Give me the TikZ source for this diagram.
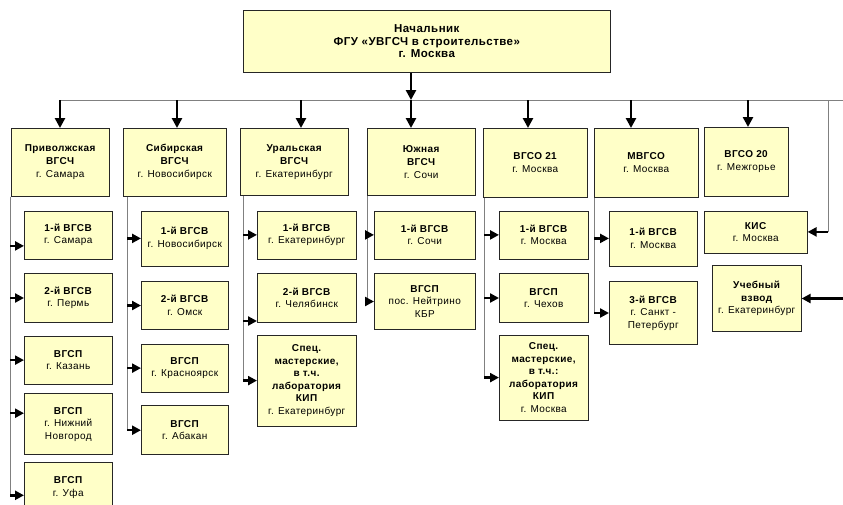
\documentclass[tikz,border=0pt]{standalone}
\usepackage{fontspec}
\setmainfont[LetterSpace=4]{Liberation Sans}
\usetikzlibrary{arrows.meta,positioning}
\definecolor{boxfill}{HTML}{FFFFC8}
\definecolor{busgray}{HTML}{808080}
\tikzset{
  chiefnode/.style={draw=black!85,line width=0.6pt,fill=boxfill,anchor=north west,minimum width=367pt,minimum height=62pt,align=center,font=\fontsize{11.5}{12.5}\selectfont\bfseries},
  headnode/.style={draw=black!85,line width=0.6pt,fill=boxfill,anchor=north west,minimum height=68pt,inner xsep=1pt,align=center,font=\fontsize{10}{13}\selectfont},
  unitnode/.style={draw=black!85,line width=0.6pt,fill=boxfill,inner xsep=1pt,align=center,font=\fontsize{10}{12.5}\selectfont},
  busline/.style={busgray,line width=0.9pt},
  feed/.style={-{Triangle[length=10pt,width=10pt]},line width=2.6pt},
  sidearrow/.style={-{Triangle[length=9pt,width=9pt]},line width=2.4pt}
}
\begin{document}
\begin{tikzpicture}[x=1pt,y=-1pt,node distance=14pt]
  \useasboundingbox (0,0) rectangle (843,504);
  \node[chiefnode] (chief) at (243,10) {Начальник\\ФГУ «УВГСЧ в строительстве»\\г. Москва};

  % regional units
  \node[headnode,minimum width=98pt] (volga) at (11,128) {\textbf{Приволжская}\\\textbf{ВГСЧ}\\г. Самара};
  \node[headnode,minimum width=103pt] (sib) at (123,128) {\textbf{Сибирская}\\\textbf{ВГСЧ}\\г. Новосибирск};
  \node[headnode,minimum width=108pt,minimum height=67pt] (ural) at (240,128) {\textbf{Уральская}\\\textbf{ВГСЧ}\\г. Екатеринбург};
  \node[headnode,minimum width=108pt,minimum height=67pt] (south) at (367,128) {\textbf{Южная}\\\textbf{ВГСЧ}\\г. Сочи};
  \node[headnode,minimum width=104pt,minimum height=69pt] (vgso21) at (483,128) {\textbf{ВГСО 21}\\г. Москва};
  \node[headnode,minimum width=104pt,minimum height=69pt] (mvgso) at (594,128) {\textbf{МВГСО}\\г. Москва};
  \node[headnode,minimum width=84pt,minimum height=69pt] (vgso20) at (704,127) {\textbf{ВГСО 20}\\г. Межгорье};

  % Volga children
  \node[unitnode,minimum width=88pt,minimum height=48pt,below right=14pt and 13pt of volga.south west] (volga1) {\textbf{1-й ВГСВ}\\г. Самара};
  \node[unitnode,minimum width=88pt,minimum height=49pt,below=14pt of volga1] (volga2) {\textbf{2-й ВГСВ}\\г. Пермь};
  \node[unitnode,minimum width=88pt,minimum height=48pt,below=13pt of volga2] (volga3) {\textbf{ВГСП}\\г. Казань};
  \node[unitnode,minimum width=88pt,minimum height=61pt,below=9pt of volga3] (volga4) {\textbf{ВГСП}\\г. Нижний\\Новгород};
  \node[unitnode,minimum width=88pt,minimum height=50pt,below=7pt of volga4] (volga5) {\textbf{ВГСП}\\г. Уфа};

  % Siberian children
  \node[unitnode,minimum width=87pt,minimum height=55pt,below right=14pt and 18pt of sib.south west] (sib1) {\textbf{1-й ВГСВ}\\г. Новосибирск};
  \node[unitnode,minimum width=87pt,minimum height=48pt,below=15pt of sib1] (sib2) {\textbf{2-й ВГСВ}\\г. Омск};
  \node[unitnode,minimum width=87pt,minimum height=48pt,below=14pt of sib2] (sib3) {\textbf{ВГСП}\\г. Красноярск};
  \node[unitnode,minimum width=87pt,minimum height=49pt,below=13pt of sib3] (sib4) {\textbf{ВГСП}\\г. Абакан};

  % Ural children
  \node[unitnode,minimum width=99pt,minimum height=48pt,below right=15pt and 17pt of ural.south west] (ural1) {\textbf{1-й ВГСВ}\\г. Екатеринбург};
  \node[unitnode,minimum width=99pt,minimum height=49pt,below=14pt of ural1] (ural2) {\textbf{2-й ВГСВ}\\г. Челябинск};
  \node[unitnode,minimum width=99pt,minimum height=91pt,below=12pt of ural2] (ural3) {\textbf{Спец.}\\\textbf{мастерские,}\\\textbf{в т.ч.}\\\textbf{лаборатория}\\\textbf{КИП}\\г. Екатеринбург};

  % Southern children
  \node[unitnode,minimum width=101pt,minimum height=48pt,below right=15pt and 7pt of south.south west] (south1) {\textbf{1-й ВГСВ}\\г. Сочи};
  \node[unitnode,minimum width=101pt,minimum height=56pt,below=14pt of south1] (south2) {\textbf{ВГСП}\\пос. Нейтрино\\КБР};

  % VGSO 21 children
  \node[unitnode,minimum width=89pt,minimum height=48pt,below right=13pt and 16pt of vgso21.south west] (vgso211) {\textbf{1-й ВГСВ}\\г. Москва};
  \node[unitnode,minimum width=89pt,minimum height=49pt,below=14pt of vgso211] (vgso212) {\textbf{ВГСП}\\г. Чехов};
  \node[unitnode,minimum width=89pt,minimum height=85pt,below=12pt of vgso212] (vgso213) {\textbf{Спец.}\\\textbf{мастерские,}\\\textbf{в т.ч.:}\\\textbf{лаборатория}\\\textbf{КИП}\\г. Москва};

  % MVGSO children
  \node[unitnode,minimum width=88pt,minimum height=55pt,below right=13pt and 15pt of mvgso.south west] (mvgso1) {\textbf{1-й ВГСВ}\\г. Москва};
  \node[unitnode,minimum width=88pt,minimum height=63pt,below=15pt of mvgso1] (mvgso2) {\textbf{3-й ВГСВ}\\г. Санкт -\\Петербург};

  % direct units
  \node[unitnode,minimum width=103pt,minimum height=42pt,below right=14pt and 0pt of vgso20.south west] (kis) {\textbf{КИС}\\г. Москва};
  \node[unitnode,minimum width=89pt,minimum height=66pt,below right=12pt and 8pt of kis.south west] (vzvod) {\textbf{Учебный}\\\textbf{взвод}\\г. Екатеринбург};

  % bus
  \coordinate (tap1) at (60,100);
  \coordinate (tap2) at (177,100);
  \coordinate (tap3) at (301,100);
  \coordinate (tap4) at (411,100);
  \coordinate (tap5) at (528,100);
  \coordinate (tap6) at (631,100);
  \coordinate (tap7) at (748,100);
  \coordinate (rtap) at (828,100);
  \coordinate (busend) at (843,100);
  \draw[busline] (tap1) -- (busend);
  \draw[feed] (chief.south -| tap4) -- (tap4);
  \foreach \n/\h in {1/volga,2/sib,3/ural,4/south,5/vgso21,6/mvgso,7/vgso20}
    \draw[feed] (tap\n) -- (tap\n |- \h.north);
  \draw[busline] (rtap) -- (rtap |- kis.east);
  \draw[sidearrow] (rtap |- kis.east) -- (kis.east);
  \draw[sidearrow] (busend |- vzvod.east) -- (vzvod.east);

  % trunks
  \coordinate (volgatr) at ([xshift=-1pt]volga.south west);
  \coordinate (sibtr) at ([xshift=4pt]sib.south west);
  \coordinate (uraltr) at ([xshift=3pt]ural.south west);
  \coordinate (southtr) at (south.south west);
  \coordinate (vgso21tr) at ([xshift=1pt]vgso21.south west);
  \coordinate (mvgsotr) at (mvgso.south west);
  \coordinate (volga1in) at ([yshift=-11pt]volga1.west);
  \coordinate (volga4in) at ([yshift=11pt]volga4.west);
  \coordinate (volga5in) at ([yshift=-8pt]volga5.west);
  \coordinate (ural2in) at ([yshift=-23pt]ural2.west);

  \draw[busline] (volgatr) -- (volgatr |- volga5in);
  \foreach \t in {volga1in,volga2.west,volga3.west,volga4in,volga5in}
    \draw[sidearrow] (volgatr |- \t) -- (\t);
  \draw[busline] (sibtr) -- (sibtr |- sib4.west);
  \foreach \t in {sib1.west,sib2.west,sib3.west,sib4.west}
    \draw[sidearrow] (sibtr |- \t) -- (\t);
  \draw[busline] (uraltr) -- (uraltr |- ural3.west);
  \foreach \t in {ural1.west,ural2in,ural3.west}
    \draw[sidearrow] (uraltr |- \t) -- (\t);
  \draw[busline] (southtr) -- (southtr |- south2.west);
  \foreach \t in {south1.west,south2.west}
    \draw[sidearrow] (southtr |- \t) -- (\t);
  \draw[busline] (vgso21tr) -- (vgso21tr |- vgso213.west);
  \foreach \t in {vgso211.west,vgso212.west,vgso213.west}
    \draw[sidearrow] (vgso21tr |- \t) -- (\t);
  \draw[busline] (mvgsotr) -- (mvgsotr |- mvgso2.west);
  \foreach \t in {mvgso1.west,mvgso2.west}
    \draw[sidearrow] (mvgsotr |- \t) -- (\t);
\end{tikzpicture}
\end{document}
